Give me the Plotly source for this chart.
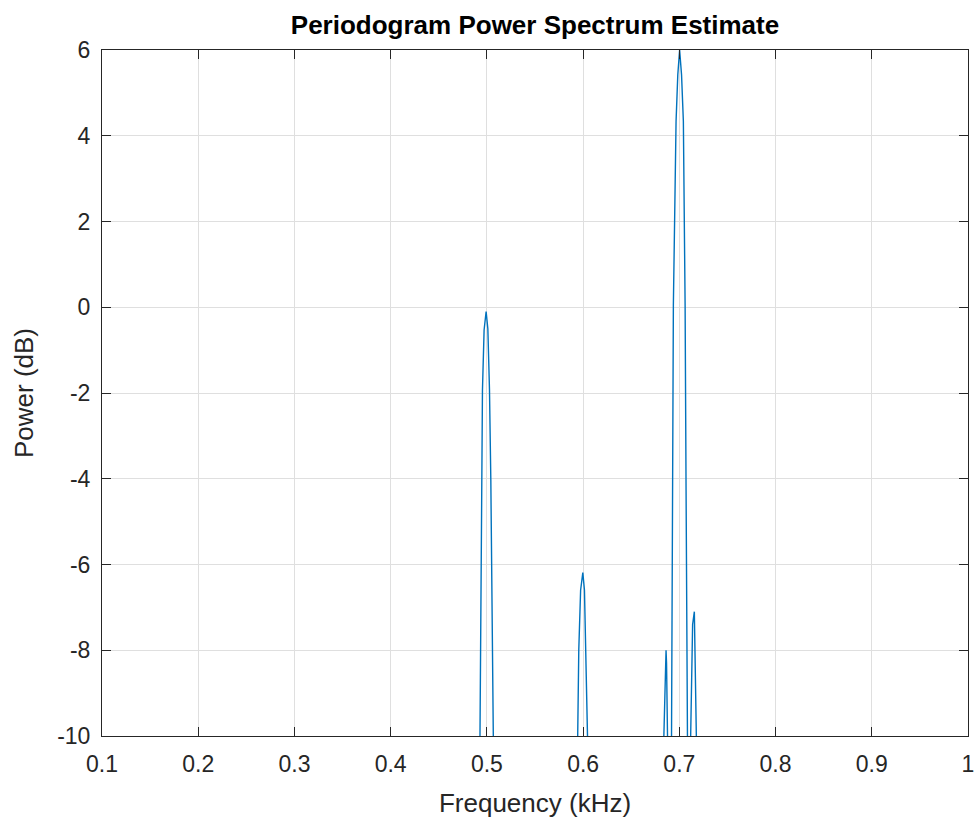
import plotly.graph_objects as go

# Values (kHz, dB); points at -11 lie below the visible range
freq_khz = [
    0.4925, 0.4940, 0.4948, 0.4954, 0.4971, 0.4992, 0.5010, 0.5027, 0.5041, 0.5055, 0.5071,
    0.5938, 0.5955, 0.5974, 0.5997, 0.6014, 0.6031, 0.6055,
    0.6828, 0.6857, 0.6862, 0.6867, 0.6883,
    0.6917, 0.6928, 0.6938, 0.6966, 0.6984, 0.7003, 0.7023, 0.7042, 0.7060, 0.7070, 0.7087,
    0.7110, 0.7131, 0.7138, 0.7156, 0.7184,
]
power_db = [
    -11, -6.83, -4.03, -1.93, -0.53, -0.10, -0.50, -1.93, -4.03, -6.83, -11,
    -11, -8.0, -6.6, -6.19, -6.6, -8.0, -11,
    -11, -8.2, -8.0, -8.3, -11,
    -11, -4.26, 0.04, 4.34, 5.42, 6.0, 5.42, 4.34, 0.04, -4.26, -11,
    -11, -7.5, -7.4, -7.1, -11,
]

x_ticks = [0.1, 0.2, 0.3, 0.4, 0.5, 0.6, 0.7, 0.8, 0.9, 1.0]
x_tick_labels = ["0.1", "0.2", "0.3", "0.4", "0.5", "0.6", "0.7", "0.8", "0.9", "1"]
y_ticks = [-10, -8, -6, -4, -2, 0, 2, 4, 6]
y_tick_labels = ["-10", "-8", "-6", "-4", "-2", "0", "2", "4", "6"]

AX = "#262626"
GRID = "#dfdfdf"
FONT = "Liberation Sans, Arial, Helvetica, sans-serif"

fig = go.Figure()
fig.add_trace(go.Scatter(
    x=freq_khz, y=power_db, mode="lines",
    line=dict(color="#0072BD", width=1.4),
    showlegend=False, hoverinfo="skip",
))

fig.update_layout(
    width=977, height=821,
    paper_bgcolor="white", plot_bgcolor="white",
    margin=dict(l=102, r=9, t=50, b=85),
    title=dict(
        text="<b>Periodogram Power Spectrum Estimate</b>",
        x=0.5 * (102 + 968) / 977, xanchor="center",
        y=1 - 25 / 821, yanchor="middle",
        font=dict(family=FONT, size=26, color="black"),
    ),
    font=dict(family=FONT, color=AX),
)
fig.update_xaxes(
    range=[0.1, 1.0], tickvals=x_ticks, ticktext=x_tick_labels,
    automargin=False, ticklabelstandoff=7,
    showgrid=True, gridcolor=GRID, gridwidth=1, zeroline=False,
    showline=True, linecolor=AX, linewidth=1, mirror="ticks",
    ticks="inside", ticklen=9, tickcolor=AX, tickwidth=1,
    tickfont=dict(family=FONT, size=23, color=AX),
    title=dict(text="Frequency (kHz)", font=dict(family=FONT, size=26, color=AX), standoff=18),
)
fig.update_yaxes(
    range=[-10, 6], tickvals=y_ticks, ticktext=y_tick_labels,
    automargin=False, ticklabelstandoff=6,
    showgrid=True, gridcolor=GRID, gridwidth=1, zeroline=False,
    showline=True, linecolor=AX, linewidth=1, mirror="ticks",
    ticks="inside", ticklen=9, tickcolor=AX, tickwidth=1,
    tickfont=dict(family=FONT, size=23, color=AX),
    title=dict(text="Power (dB)", font=dict(family=FONT, size=26, color=AX), standoff=16),
)

fig.write_html(
    "out.html",
    config={"displayModeBar": False},
    post_script="document.body.style.margin='0px';document.body.style.overflow='hidden';",
)
